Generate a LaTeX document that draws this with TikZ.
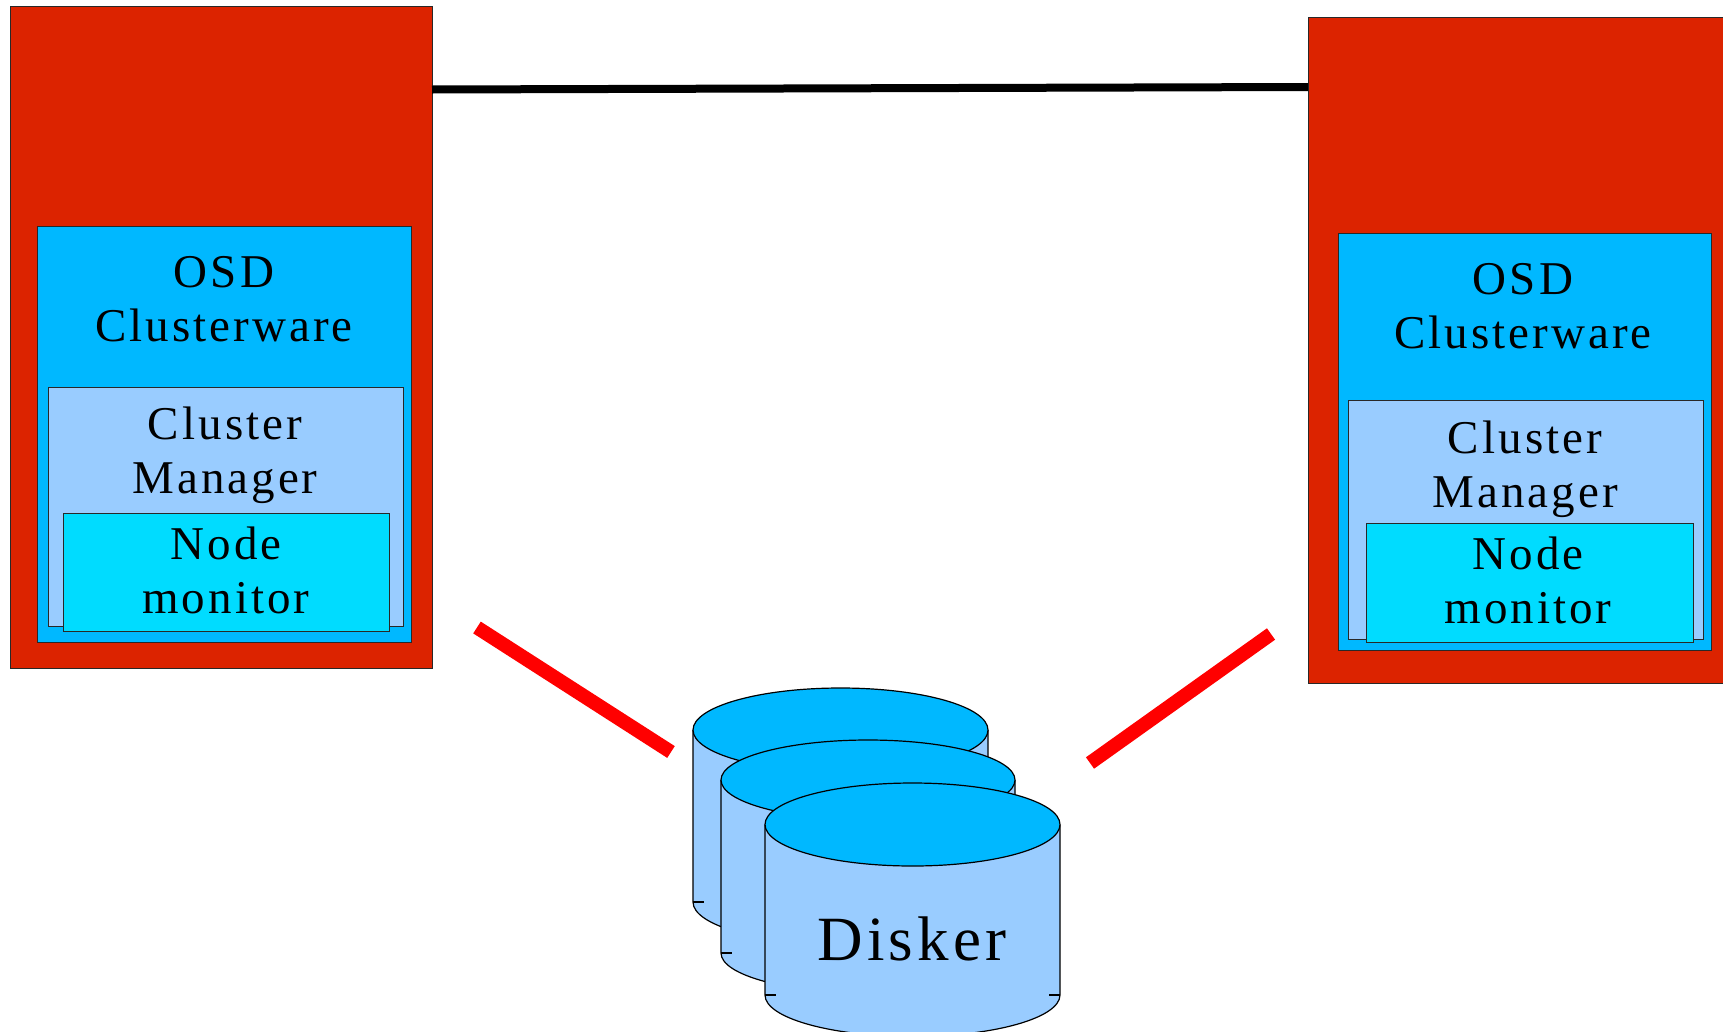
\documentclass[tikz,border=0pt]{standalone}
\usepackage{fontspec}
\newfontfamily\lblfont[LetterSpace=6.5]{Liberation Serif}
\definecolor{boxred}{RGB}{220,35,0}
\definecolor{osdblue}{RGB}{0,184,255}
\definecolor{cmblue}{RGB}{153,204,255}
\definecolor{nmblue}{RGB}{0,220,255}
\definecolor{linkred}{RGB}{255,0,0}
\definecolor{edge}{RGB}{40,40,40}
\newcommand\drawdisk[5]{%
  \fill[cmblue] ({#1-#4},#2) -- ({#1-#4},#3) arc[start angle=180,end angle=0,x radius=#4,y radius=#5] -- ({#1+#4},#2) -- cycle;
  \draw[diskline] ({#1-#4},#2) -- ({#1-#4},#3) arc[start angle=180,end angle=0,x radius=#4,y radius=#5] -- ({#1+#4},#2);
  \draw[diskline] ({#1-#4},#3) -- ++(11,0);
  \draw[diskline] ({#1+#4},#3) -- ++(-11,0);
  \filldraw[fill=osdblue,diskline] (#1,#2) ellipse[x radius=#4,y radius=#5];
}
\begin{document}
\begin{tikzpicture}[x=1pt,y=-1pt,
  box/.style={draw=edge,line width=0.9pt,inner sep=0pt,outer sep=0pt,anchor=north west},
  redbox/.style={box,fill=boxred},
  osdbox/.style={box,fill=osdblue},
  cmbox/.style={box,fill=cmblue},
  nmbox/.style={box,fill=nmblue},
  lbl/.style={font=\lblfont\fontsize{47}{54}\selectfont,align=center,anchor=base,inner sep=0pt},
  disklbl/.style={font=\lblfont\fontsize{63}{70}\selectfont,anchor=base,inner sep=0pt},
  diskline/.style={draw=black,line width=1.2pt},
  redlink/.style={draw=linkred,line width=14pt},
  netlink/.style={draw=black,line width=8pt}]
\useasboundingbox (0,0) rectangle (1723,1031);
% left server
\node[redbox,minimum width=421.5pt,minimum height=662pt] (lred) at (10.5,6) {};
\node[osdbox,minimum width=374pt,minimum height=416pt] (losd) at (37,226) {};
\node[cmbox,minimum width=355pt,minimum height=239pt] (lcm) at (48,387) {};
\node[nmbox,minimum width=326pt,minimum height=118pt] (lnm) at (63,513) {};
\node[lbl] (losdt) at (224,341) {OSD\\Clusterware};
\node[lbl] (lcmt) at (225,493) {Cluster\\Manager};
\node[lbl] (lnmt) at (226,613) {Node\\monitor};
% right server
\node[redbox,minimum width=432pt,minimum height=666pt] (rred) at (1308,17) {};
\node[osdbox,minimum width=373pt,minimum height=417pt] (rosd) at (1338,233) {};
\node[cmbox,minimum width=355pt,minimum height=239pt] (rcm) at (1348,400) {};
\node[nmbox,minimum width=327pt,minimum height=119pt] (rnm) at (1366,523) {};
\node[lbl] (rosdt) at (1523,348) {OSD\\Clusterware};
\node[lbl] (rcmt) at (1525,507) {Cluster\\Manager};
\node[lbl] (rnmt) at (1528,623) {Node\\monitor};
% network link
\draw[netlink] (lred.east |- 0,89.5) -- (rred.west |- 0,87);
% disks
\drawdisk{840.5}{730}{902}{147.5}{42}
\drawdisk{868}{780}{953}{147}{40}
\drawdisk{912.5}{824.5}{995}{147.5}{41.5}
\node[disklbl] (disker) at (912,960) {Disker};
% storage links
\coordinate (la) at (477,627.5);
\coordinate (lb) at (671,752);
\coordinate (ra) at (1271,634);
\coordinate (rb) at (1090,763);
\draw[redlink] (la) -- (lb);
\draw[redlink] (ra) -- (rb);
\end{tikzpicture}
\end{document}
